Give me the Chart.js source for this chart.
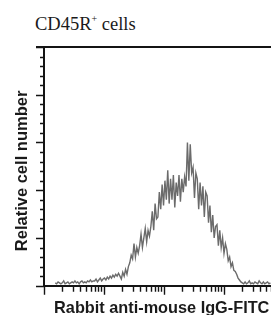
<!DOCTYPE html>
<html>
<head>
<meta charset="utf-8">
<script src="https://cdn.jsdelivr.net/npm/chart.js@4"></script>
<style>
  html, body { margin: 0; padding: 0; background: #fff; overflow: hidden; }
  #wrap { position: relative; width: 271px; height: 315px; overflow: hidden; }
  #chart { position: absolute; left: 0; top: 0; }
  #title { position: absolute; left: 35px; top: 15px; font: 18.5px 'Liberation Serif', serif; line-height: 1; color: #1a1a1a; white-space: nowrap; }
  #title sup { font-size: 10px; vertical-align: 8px; line-height: 0; }
</style>
</head>
<body>
<div id="wrap">
  <div id="title">CD45R<sup>+</sup> cells</div>
  <canvas id="chart" width="300" height="318"></canvas>
</div>
<script>
// histogram: 256 channels per decade, 4 decades
const channelStart = 48;
const channelStep = 6;
const counts = [
  3, 2, 4, 3, 2, 3, 5, 2, 3, 4, 2, 3, 4, 3, 5, 3, 4, 2, 4, 5, 3, 4, 3, 5, 4, 6, 4, 5,
  5, 7, 4, 6, 8, 5, 7,
  8, 6, 9, 7, 10, 8, 11, 9, 12, 10, 13,
  10, 7, 14, 10, 17, 12, 20,
  24, 32, 28, 44, 30, 40, 34,
  42, 54, 40, 50, 60, 46, 58, 52,
  62, 78, 58, 86, 70,
  72, 98, 80, 106, 84, 110, 90,
  121, 86, 112, 90, 116, 82, 108,
  94, 116, 88, 112, 98, 114, 104,
  150, 110, 148, 118,
  124, 92, 118,
  112, 80, 108, 84, 104, 72, 98,
  94, 66, 84, 56, 74, 50, 62,
  64, 42, 58, 40, 50, 34, 44,
  38, 26, 30, 20, 24, 16, 15,
  12, 8, 6, 4,
  3, 2, 4, 2, 3, 5, 2, 3, 2, 4, 3, 2, 5, 3, 2, 4, 2, 3, 4, 2, 3
];
const decades = [0, 1, 2, 3, 4];
const minorSteps = [2, 3, 4, 5, 6, 7, 8, 9];
const yMajor = [0, 50, 100, 150, 200, 250];
const yMinor = [10, 20, 30, 40, 60, 70, 80, 90, 110, 120, 130, 140, 160, 170, 180, 190, 210, 220, 230, 240];

const channelsPerDecade = 256;
const points = counts.map((v, i) => ({ x: channelStart + i * channelStep, y: v }));

const axisColor = '#141414';

const tickMarks = {
  id: 'tickMarks',
  afterDraw(chart) {
    const { ctx, chartArea, scales: { x, y } } = chart;
    ctx.save();
    ctx.strokeStyle = axisColor;
    ctx.lineWidth = 1.4;
    ctx.beginPath();
    yMajor.forEach(v => {
      const py = Math.round(y.getPixelForValue(v)) + 0.5;
      ctx.moveTo(chartArea.left - 8, py); ctx.lineTo(chartArea.left, py);
    });
    yMinor.forEach(v => {
      const py = Math.round(y.getPixelForValue(v)) + 0.5;
      ctx.moveTo(chartArea.left - 4, py); ctx.lineTo(chartArea.left, py);
    });
    decades.forEach(d => {
      const px = Math.round(x.getPixelForValue(d * channelsPerDecade)) + 0.5;
      ctx.moveTo(px, chartArea.bottom); ctx.lineTo(px, chartArea.bottom + 9);
      if (d < 4) {
        minorSteps.forEach(m => {
          const mx = Math.round(x.getPixelForValue((d + Math.log10(m)) * channelsPerDecade)) + 0.5;
          ctx.moveTo(mx, chartArea.bottom); ctx.lineTo(mx, chartArea.bottom + 6);
        });
      }
    });
    ctx.stroke();
    // top frame
    ctx.lineWidth = 2;
    ctx.beginPath();
    const top = Math.round(y.getPixelForValue(250));
    ctx.moveTo(chartArea.left - 8, top); ctx.lineTo(chartArea.right, top);
    ctx.stroke();
    ctx.restore();
  }
};

new Chart(document.getElementById('chart'), {
  type: 'line',
  data: {
    datasets: [{
      data: points,
      borderColor: 'rgba(70, 70, 70, 0.8)',
      borderWidth: 1.4,
      pointRadius: 0,
      tension: 0
    }]
  },
  options: {
    responsive: false,
    animation: false,
    layout: { padding: { top: 47, right: 16, left: 0, bottom: 0 } },
    plugins: { legend: { display: false }, tooltip: { enabled: false } },
    scales: {
      x: {
        type: 'linear',
        min: 0,
        max: 1024,
        afterFit: s => { s.height = 318 - 285.7; },
        ticks: { display: false },
        grid: { display: false },
        border: { display: true, color: axisColor, width: 2 },
        title: {
          display: true,
          text: 'Rabbit anti-mouse IgG-FITC ',
          color: '#1a1a1a',
          font: { family: 'Liberation Sans', size: 16.3, weight: 'bold' },
          padding: 0
        }
      },
      y: {
        min: 0,
        max: 250,
        afterFit: s => { s.width = 44; },
        ticks: { display: false },
        grid: { display: false },
        border: { display: true, color: axisColor, width: 2 },
        title: {
          display: true,
          text: 'Relative cell number  ',
          color: '#1a1a1a',
          font: { family: 'Liberation Sans', size: 16.5, weight: 'bold' },
          padding: { top: 13, bottom: 0 }
        }
      }
    }
  },
  plugins: [tickMarks]
});
</script>
</body>
</html>
